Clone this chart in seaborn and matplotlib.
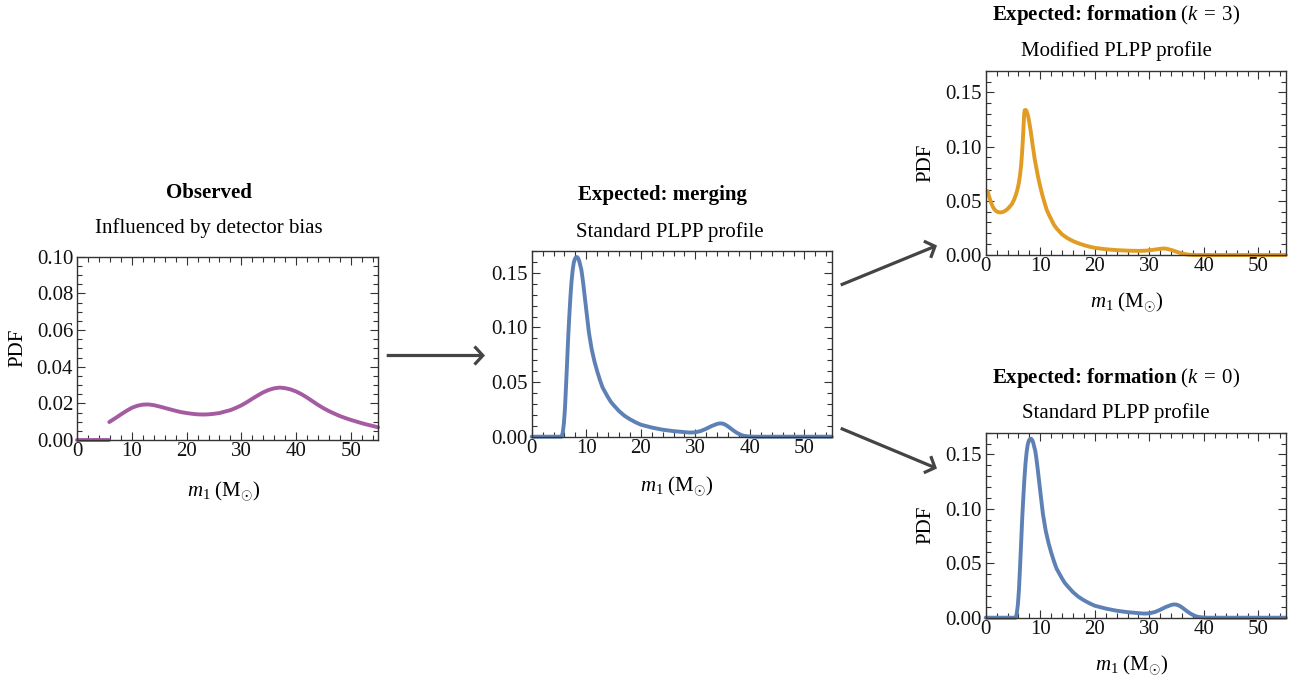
import numpy as np
import pandas as pd
import matplotlib
matplotlib.use("Agg")
import matplotlib.pyplot as plt
from matplotlib.ticker import MultipleLocator, FormatStrFormatter
from matplotlib.patches import FancyArrowPatch
import seaborn as sns

# ---------------- data ----------------
obs_zero_x = [0.0, 5.8]
obs_zero_y = [0.0, 0.0]
obs_x = [5.85, 7, 8, 9, 10, 11, 12, 13, 14, 15, 16, 17, 18, 19, 20, 21, 22, 23, 24,
         25, 26, 27, 28, 29, 30, 31, 32, 33, 34, 35, 36, 37, 38, 39, 40, 41, 42, 43,
         44, 45, 46, 47, 48, 49, 50, 51, 52, 53, 54, 55]
obs_y = [0.0098, 0.0120, 0.0140, 0.0159, 0.0176, 0.0187, 0.0193, 0.0194, 0.0190,
         0.0183, 0.0175, 0.0167, 0.0159, 0.0152, 0.0147, 0.0143, 0.0140, 0.0139,
         0.0140, 0.0143, 0.0147, 0.0155, 0.0163, 0.0175, 0.0189, 0.0206, 0.0225,
         0.0243, 0.0260, 0.0273, 0.0282, 0.0286, 0.0283, 0.0276, 0.0265, 0.0250,
         0.0232, 0.0212, 0.0192, 0.0174, 0.0158, 0.0144, 0.0131, 0.0120, 0.0110,
         0.0101, 0.0092, 0.0084, 0.0077, 0.0069]

std_x = [0, 5.5, 5.7, 5.9, 6.1, 6.3, 6.5, 6.7, 6.9, 7.1, 7.3, 7.5, 7.7, 7.9, 8.1,
         8.3, 8.5, 8.7, 8.9, 9.1, 9.3, 9.5, 9.8, 10.1, 10.5, 11.0, 11.5, 12.0, 12.5,
         13.0, 14.0, 14.5, 15.0, 16.0, 17.0, 18.0, 19.0, 20.0, 22.0, 24.0, 26.0,
         28.0, 29.0, 30.0, 31.0, 32.0, 33.0, 34.0, 34.5, 35.0, 35.5, 36.0, 36.5,
         37.0, 37.5, 38.0, 38.5, 39.0, 40.0, 41.0, 55.0]
std_y = [0.0, 0.0, 0.004, 0.012, 0.026, 0.047, 0.069, 0.092, 0.111, 0.128, 0.142,
         0.152, 0.159, 0.1625, 0.1642, 0.1645, 0.1635, 0.161, 0.157, 0.153, 0.146,
         0.138, 0.125, 0.112, 0.095, 0.080, 0.069, 0.060, 0.052, 0.045, 0.036,
         0.032, 0.029, 0.0235, 0.0192, 0.0160, 0.0133, 0.0110, 0.0084, 0.0064,
         0.0051, 0.0042, 0.0038, 0.0040, 0.0052, 0.0073, 0.0098, 0.0117, 0.0122,
         0.0120, 0.0110, 0.0094, 0.0075, 0.0056, 0.0039, 0.0025, 0.0014, 0.0007,
         0.0001, 0.0, 0.0]

mod_x = [0.35, 0.5, 0.75, 1.0, 1.3, 1.6, 2.0, 2.4, 2.8, 3.2, 3.6, 4.0, 4.4, 4.8, 5.2,
         5.5, 5.8, 6.1, 6.3, 6.5, 6.65, 6.8, 6.95, 7.05, 7.15, 7.3, 7.45, 7.6, 7.8,
         8.0, 8.2, 8.4, 8.6, 8.8, 9.0, 9.3, 9.6, 10.0, 10.4, 10.8, 11.2, 11.6, 12.0,
         12.5, 13.0, 14.0, 15.0, 16.0, 17.0, 18.0, 19.0, 20.0, 22.0, 24.0, 26.0,
         28.0, 29.0, 30.0, 31.0, 32.0, 32.5, 33.0, 34.0, 35.0, 36.0, 37.0, 38.0, 55.0]
mod_y = [0.059, 0.056, 0.052, 0.048, 0.0445, 0.042, 0.0402, 0.0394, 0.0393, 0.0398,
         0.0408, 0.0424, 0.0445, 0.047, 0.051, 0.055, 0.060, 0.067, 0.074, 0.083,
         0.093, 0.105, 0.120, 0.130, 0.1335, 0.1338, 0.1333, 0.131, 0.1276, 0.122,
         0.116, 0.109, 0.1015, 0.095, 0.088, 0.080, 0.072, 0.063, 0.055, 0.048,
         0.0415, 0.037, 0.033, 0.028, 0.0245, 0.019, 0.0155, 0.0128, 0.0108, 0.0091,
         0.0077, 0.0066, 0.0053, 0.0045, 0.0040, 0.0038, 0.0039, 0.0043, 0.0050,
         0.0057, 0.0060, 0.0059, 0.0047, 0.0030, 0.0014, 0.0004, 0.0, 0.0]

x_ticks = [0, 10, 20, 30, 40, 50]

# ---------------- style ----------------
sns.set_theme(style="ticks")
plt.rcParams["font.family"] = ["Liberation Serif", "DejaVu Serif"]
plt.rcParams["mathtext.fontset"] = "custom"
plt.rcParams["mathtext.rm"] = "Liberation Serif"
plt.rcParams["mathtext.it"] = "Liberation Serif:italic"
plt.rcParams["mathtext.bf"] = "Liberation Serif:bold"

W, H = 1298, 683
fig = plt.figure(figsize=(W / 100, H / 100), dpi=100)
fig.patch.set_facecolor("white")

PURPLE = "#A45BA1"
BLUE = "#5E81B5"
ORANGE = "#E19C24"
FRAME = "#333333"
FS = 15


def px_axes(l, t, r, b):
    return fig.add_axes([l / W, 1 - b / H, (r - l) / W, (b - t) / H])


def style(ax, ymax, ymaj, ymin):
    ax.set_xlim(0, 55)
    ax.set_ylim(0, ymax)
    ax.set_xticks(x_ticks)
    ax.xaxis.set_minor_locator(MultipleLocator(2))
    ax.yaxis.set_major_locator(MultipleLocator(ymaj))
    ax.yaxis.set_minor_locator(MultipleLocator(ymin))
    ax.yaxis.set_major_formatter(FormatStrFormatter("%.2f"))
    ax.tick_params(which="both", direction="in", top=True, right=True,
                   color=FRAME, width=0.8, labelsize=FS, labelcolor="#111111")
    ax.tick_params(which="major", length=6)
    ax.tick_params(which="minor", length=3.5)
    ax.tick_params(axis="x", pad=1.5)
    ax.tick_params(axis="y", pad=3)
    for s in ax.spines.values():
        s.set_color(FRAME)
        s.set_linewidth(1.0)
    ax.set_xlabel("")
    ax.set_ylabel("")
    ax.grid(False)
    if ax.get_legend():
        ax.get_legend().remove()


LW = 2.8

# Panel 1: observed
ax1 = px_axes(77.3, 256.7, 378, 440)
sns.lineplot(x=obs_zero_x, y=obs_zero_y, ax=ax1, color=PURPLE, lw=LW, clip_on=False)
sns.lineplot(x=obs_x, y=obs_y, ax=ax1, color=PURPLE, lw=LW, clip_on=False)
style(ax1, 0.10, 0.02, 0.005)

# Panel 2: expected merging
ax2 = px_axes(531.7, 251, 831.7, 436.7)
sns.lineplot(x=std_x, y=std_y, ax=ax2, color=BLUE, lw=LW, clip_on=False)
style(ax2, 0.17, 0.05, 0.01)

# Panel 3: formation k=3
ax3 = px_axes(985.7, 70.7, 1285.7, 255)
sns.lineplot(x=mod_x, y=mod_y, ax=ax3, color=ORANGE, lw=LW, clip_on=False)
style(ax3, 0.17, 0.05, 0.01)

# Panel 4: formation k=0
ax4 = px_axes(985.7, 432.7, 1285.7, 617.7)
sns.lineplot(x=std_x, y=std_y, ax=ax4, color=BLUE, lw=LW, clip_on=False)
style(ax4, 0.17, 0.05, 0.01)


def ftext(x, y, s, **kw):
    kw.setdefault("fontsize", FS)
    kw.setdefault("ha", "center")
    kw.setdefault("va", "center")
    kw.setdefault("color", "black")
    fig.text(x / W, 1 - y / H, s, **kw)


XL = r"$m_1\ (\mathrm{M}_{\odot})$"

# titles
ftext(209, 193, "Observed", fontweight="bold")
ftext(209, 228, "Influenced by detector bias")
ftext(662, 195, "Expected: merging", fontweight="bold")
ftext(670, 232, "Standard PLPP profile")
ftext(1116, 15, r"Expected: formation $(k\:=\:3)$", fontweight="bold")
ftext(1116, 51, "Modified PLPP profile")
ftext(1116, 378, r"Expected: formation $(k\:=\:0)$", fontweight="bold")
ftext(1116, 413, "Standard PLPP profile")

# axis labels
ftext(224, 491, XL)
ftext(677, 486, XL)
ftext(1127, 302, XL)
ftext(1132, 665, XL)
ftext(18, 348, "PDF", rotation=90)
ftext(926, 163, "PDF", rotation=90)
ftext(926, 525, "PDF", rotation=90)

# arrows
ARROW_COL = "#444444"


def arrow(x0, y0, x1, y1):
    a = FancyArrowPatch((x0 / W, 1 - y0 / H), (x1 / W, 1 - y1 / H),
                        transform=fig.transFigure,
                        arrowstyle="->,head_length=0.6,head_width=0.65",
                        mutation_scale=10, lw=2.3, color=ARROW_COL,
                        shrinkA=0, shrinkB=0, capstyle="butt", joinstyle="miter")
    fig.add_artist(a)


arrow(386.7, 355.5, 485, 355.5)
arrow(840.7, 285, 937, 245.5)
arrow(840.7, 428.3, 937, 468.5)

fig.savefig("out.png", dpi=100, facecolor="white")
